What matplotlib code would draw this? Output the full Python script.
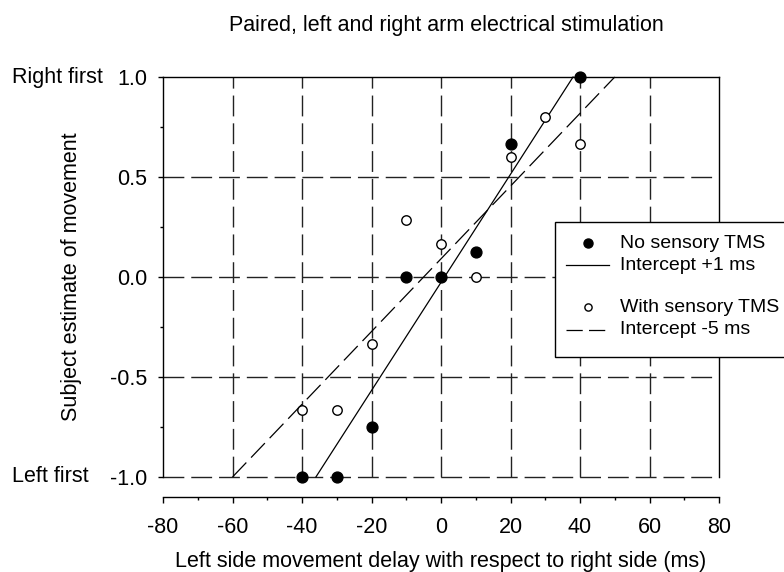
import matplotlib
matplotlib.use('Agg')
import matplotlib.pyplot as plt
from matplotlib.lines import Line2D
from matplotlib.patches import Rectangle
from matplotlib.ticker import MultipleLocator, FixedLocator
import matplotlib.transforms as mtransforms

plt.rcParams['font.family'] = ['Liberation Sans', 'DejaVu Sans']
plt.rcParams['axes.unicode_minus'] = False

# ---- data ----
delay_no_tms = [-40, -30, -20, -10, 0, 10, 20, 40]
estimate_no_tms = [-1.0, -1.0, -0.75, 0.0, 0.0, 0.125, 0.667, 1.0]
delay_tms = [-40, -30, -20, -10, 0, 10, 20, 30, 40]
estimate_tms = [-0.667, -0.667, -0.333, 0.286, 0.167, 0.0, 0.6, 0.8, 0.667]

fit_intercept_ms = [1, -5]     # delay where estimate = 0
fit_halfwidth_ms = [37, 55]    # delay change from 0 to +/-1

x_ticks = [-80, -60, -40, -20, 0, 20, 40, 60, 80]
x_grid = [-60, -40, -20, 0, 20, 40, 60]
y_ticks = [-1.0, -0.5, 0.0, 0.5, 1.0]
y_tick_labels = ['-1.0', '-0.5', '0.0', '0.5', '1.0']
y_grid = [-1.0, -0.5, 0.0, 0.5]
side_labels = ['Left first', 'Right first']
legend_labels = ['No sensory TMS', 'Intercept +1 ms', 'With sensory TMS', 'Intercept -5 ms']

title = 'Paired, left and right arm electrical stimulation'
xlabel = 'Left side movement delay with respect to right side (ms)'
ylabel = 'Subject estimate of movement'

# ---- layout (pixels) ----
W, H = 784, 572
L, R, T, B = 163, 719, 77, 477
FS = 15.5
LFS = 14

fig = plt.figure(figsize=(W / 100, H / 100), dpi=100)
ax = fig.add_axes([L / W, 1 - B / H, (R - L) / W, (B - T) / H])
ax.set_xlim(-80, 80)
ax.set_ylim(-1, 1)

def fx(px):
    return px / W

def fy(py):
    return 1 - py / H

# grid
for gx in x_grid:
    ax.axvline(gx, color='#222222', lw=1.0, dashes=(15, 5), zorder=1, clip_on=False)
for gy in y_grid:
    ax.axhline(gy, color='#222222', lw=1.0, dashes=(15, 5), zorder=1, clip_on=False)

# fit lines
styles = [dict(ls='-', lw=0.9), dict(lw=0.9, dashes=(16, 5.5))]
for c, hw, st in zip(fit_intercept_ms, fit_halfwidth_ms, styles):
    ax.plot([c - hw, c + hw], [-1, 1], color='black', zorder=3, clip_on=False, **st)

# points
ax.plot(delay_no_tms, estimate_no_tms, 'o', ms=7.8, mfc='black', mec='black',
        zorder=5, clip_on=False)
ax.plot(delay_tms, estimate_tms, 'o', ms=6.8, mfc='white', mec='black', mew=1.0,
        zorder=5, clip_on=False)

# spines
for s in ['left', 'right', 'top']:
    ax.spines[s].set_linewidth(1.0)
    ax.spines[s].set_zorder(2)
ax.spines['bottom'].set_position(('outward', 20 * 0.72))
ax.spines['bottom'].set_bounds(-80, 80)
ax.spines['bottom'].set_linewidth(1.0)

ax.xaxis.set_major_locator(FixedLocator(x_ticks))
ax.xaxis.set_minor_locator(MultipleLocator(10))
ax.yaxis.set_major_locator(FixedLocator(y_ticks))
ax.yaxis.set_minor_locator(MultipleLocator(0.25))
ax.set_yticklabels(y_tick_labels)
ax.tick_params(axis='x', which='major', length=4.3, width=1.0, pad=10.0, labelsize=FS)
ax.tick_params(axis='x', which='minor', length=2.2, width=1.0)
ax.tick_params(axis='y', which='major', length=3.6, width=1.0, pad=8.0, labelsize=FS)
ax.tick_params(axis='y', which='minor', length=2.2, width=1.0)
ax.tick_params(top=False, right=False, which='both')

# side labels
bt = mtransforms.blended_transform_factory(fig.transFigure, ax.transData)
ax.text(fx(12), -1.0, side_labels[0], transform=bt, ha='left', va='center', fontsize=FS)
ax.text(fx(12), 1.0, side_labels[1], transform=bt, ha='left', va='center', fontsize=FS)

# labels and title
fig.text(fx(446), fy(31), title, ha='center', va='baseline', fontsize=FS)
fig.text(fx(441), fy(567), xlabel, ha='center', va='baseline', fontsize=FS)
fig.text(fx(72), fy(277), ylabel, ha='center', va='center', rotation=90, fontsize=FS)

# legend (manual)
ax.add_patch(Rectangle((fx(555), fy(357)), fx(260), (357 - 222) / H,
                       transform=fig.transFigure, facecolor='white', edgecolor='black',
                       lw=1.0, zorder=10, clip_on=False))
ly = [243, 265, 307, 330]
fig.add_artist(Line2D([fx(588)], [fy(ly[0])], marker='o', ms=6.5, mfc='black',
                      mec='black', ls='none', zorder=11))
fig.add_artist(Line2D([fx(566), fx(609)], [fy(ly[1])] * 2, color='black', lw=0.9, zorder=11))
fig.add_artist(Line2D([fx(588)], [fy(ly[2])], marker='o', ms=5.2, mfc='white',
                      mec='black', mew=1.0, ls='none', zorder=11))
fig.add_artist(Line2D([fx(566), fx(609)], [fy(ly[3])] * 2, color='black', lw=0.9,
                      dashes=(13, 5), zorder=11))
for yy, lab in zip(ly, legend_labels):
    t = fig.text(fx(620), fy(yy), lab, ha='left', va='center', fontsize=LFS)
    t.set_zorder(12)

fig.savefig('out.png', dpi=100)
